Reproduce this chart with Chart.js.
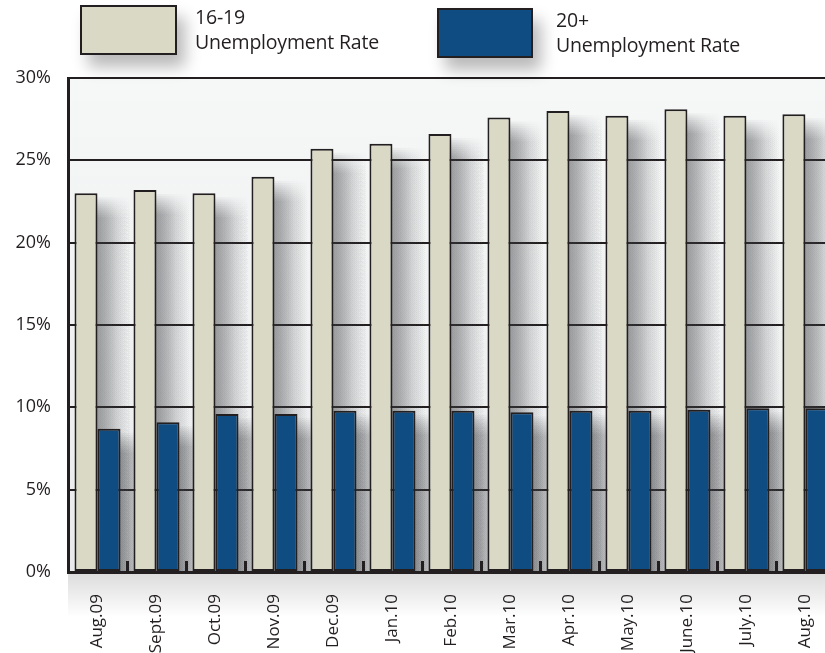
<!DOCTYPE html>
<html>
<head>
<meta charset="utf-8">
<script src="https://cdn.jsdelivr.net/npm/chart.js@4"></script>
<style>
html,body{margin:0;padding:0;background:#fff;overflow:hidden;width:825px;height:653px;}
#wrap{position:absolute;left:0;top:0;width:840px;height:653px;}
.lbox{position:absolute;border:2.5px solid #231f20;box-sizing:border-box;box-shadow:8px 12px 16px rgba(0,0,0,0.28);}
.ltxt{position:absolute;font-family:"Open Sans",sans-serif;font-size:19.5px;line-height:25px;color:#231f20;letter-spacing:-0.2px;}
</style>
</head>
<body>
<div id="wrap"><canvas id="c" width="840" height="653"></canvas></div>
<div class="lbox" style="left:80px;top:5px;width:97px;height:50px;background:#d9d9c6;"></div>
<div class="ltxt" style="left:195px;top:4px;">16-19<br>Unemployment Rate</div>
<div class="lbox" style="left:437px;top:8px;width:96px;height:50px;background:#0f4c82;"></div>
<div class="ltxt" style="left:556px;top:7px;">20+<br>Unemployment Rate</div>
<script>
const categories = ["Aug.09","Sept.09","Oct.09","Nov.09","Dec.09","Jan.10","Feb.10","Mar.10","Apr.10","May.10","June.10","July.10","Aug.10"];
const teenRate = [23.0, 23.2, 23.0, 24.0, 25.7, 26.0, 26.6, 27.6, 28.0, 27.7, 28.1, 27.7, 27.8];
const adultRate = [8.7, 9.1, 9.6, 9.6, 9.8, 9.8, 9.8, 9.7, 9.8, 9.8, 9.85, 9.95, 9.95];
const yTicks = [0, 5, 10, 15, 20, 25, 30];
const seriesNames = ["16-19 Unemployment Rate", "20+ Unemployment Rate"];

const INK = '#231f20';

const bgPlugin = {
  id: 'bg',
  beforeDraw(chart) {
    const {ctx, chartArea: a} = chart;
    ctx.save();
    const g2 = ctx.createLinearGradient(0, a.bottom, 0, a.bottom + 45);
    g2.addColorStop(0, 'rgba(0,0,0,0.14)');
    g2.addColorStop(1, 'rgba(0,0,0,0)');
    ctx.fillStyle = g2;
    ctx.fillRect(a.left, a.bottom, a.right - a.left, 45);
    const g = ctx.createLinearGradient(0, a.top, 0, a.bottom);
    g.addColorStop(0, '#f6f7f7');
    g.addColorStop(1, '#e9eaeb');
    ctx.fillStyle = g;
    ctx.fillRect(a.left, a.top, a.right - a.left, a.bottom - a.top);
    ctx.restore();
  },
  beforeDatasetsDraw(chart) {
    const {ctx, chartArea: a} = chart;
    ctx.save();
    ctx.beginPath();
    ctx.rect(a.left, a.top, a.right - a.left, a.bottom - a.top);
    ctx.clip();
    chart.data.datasets.forEach((ds, di) => {
      const meta = chart.getDatasetMeta(di);
      meta.data.forEach(el => {
        const p = el.getProps(['x','y','base','width'], true);
        const r = p.x + p.width / 2;
        const ext = 34;
        const g = ctx.createLinearGradient(r - 2, 0, r + ext, 0);
        g.addColorStop(0, 'rgba(60,62,66,0.42)');
        g.addColorStop(0.25, 'rgba(60,62,66,0.30)');
        g.addColorStop(0.6, 'rgba(60,62,66,0.12)');
        g.addColorStop(1, 'rgba(60,62,66,0)');
        ctx.fillStyle = g;
        const steps = 10;
        ctx.globalAlpha = 1 / steps * 1.6;
        for (let k = 0; k < steps; k++) {
          const top = p.y + 4 + k * 2.2;
          ctx.fillRect(r - 2, top, ext + 2, p.base - top);
        }
        ctx.globalAlpha = 1;
      });
    });
    ctx.restore();
  },
  afterDatasetsDraw(chart) {
    const {ctx, chartArea: a, scales: {x}} = chart;
    ctx.save();
    ctx.strokeStyle = INK;
    ctx.lineWidth = 3;
    for (let i = 1; i < categories.length + 1; i++) {
      const px = Math.round((x.getPixelForValue(i - 1) + x.getPixelForValue(i)) / 2) + 0.5;
      ctx.beginPath();
      ctx.moveTo(px, a.bottom);
      ctx.lineTo(px, a.bottom - 11);
      ctx.stroke();
    }
    ctx.restore();
  }
};

new Chart(document.getElementById('c'), {
  type: 'bar',
  data: {
    labels: categories,
    datasets: [
      {label: seriesNames[0], data: teenRate, backgroundColor: '#d9d9c6', borderColor: INK, borderWidth: 2, borderSkipped: false},
      {label: seriesNames[1], data: adultRate, backgroundColor: '#0f4c82', borderColor: INK, borderWidth: 2, borderSkipped: false}
    ]
  },
  options: {
    responsive: false,
    animation: false,
    devicePixelRatio: 1,
    layout: {padding: {top: 78, right: 5, left: 0, bottom: 0}},
    datasets: {bar: {categoryPercentage: 0.78, barPercentage: 1.0}},
    plugins: {legend: {display: false}, tooltip: {enabled: false}},
    scales: {
      x: {
        offset: true,
        grid: {display: false},
        border: {display: true, color: INK, width: 3},
        ticks: {
          minRotation: 90, maxRotation: 90, padding: 14,
          color: INK,
          font: {family: '"Open Sans", sans-serif', size: 17}
        },
        afterFit(s) { s.height = 81; }
      },
      y: {
        min: 0, max: 30,
        afterBuildTicks(s) { s.ticks = yTicks.map(v => ({value: v})); },
        grid: {color: INK, lineWidth: 2, drawTicks: false},
        border: {display: true, color: INK, width: 3},
        ticks: {
          padding: 17, color: INK,
          font: {family: '"Open Sans", sans-serif', size: 18},
          callback: v => v + '%'
        },
        afterFit(s) { s.width = 68; }
      }
    }
  },
  plugins: [bgPlugin]
});
</script>
</body>
</html>
